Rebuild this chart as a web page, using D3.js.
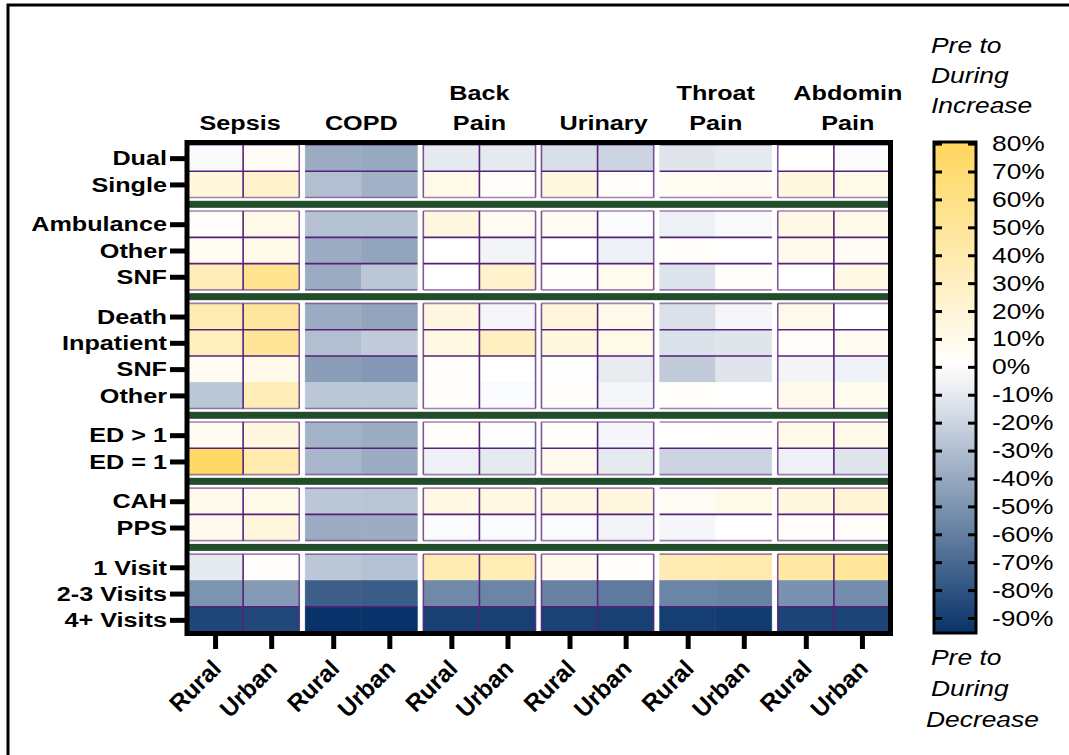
<!DOCTYPE html>
<html><head><meta charset="utf-8">
<script src="https://cdn.jsdelivr.net/npm/d3@7"></script>
<style>
body{margin:0;background:#fff}
svg{display:block}
text{font-family:"Liberation Sans",Arial,sans-serif;fill:#000}
</style>
</head><body>
<svg id="chart" width="1069" height="755"></svg>
<script>
// ---------- data ----------
const conditions = ["Sepsis","COPD","Back Pain","Urinary","Throat Pain","Abdomin Pain"];
const locations = ["Rural","Urban"];
const rowGroups = [
  ["Dual","Single"],
  ["Ambulance","Other","SNF"],
  ["Death","Inpatient","SNF","Other"],
  ["ED > 1","ED = 1"],
  ["CAH","PPS"],
  ["1 Visit","2-3 Visits","4+ Visits"]
];
// % change, pre to during; row order follows rowGroups
const sepsisRural   = [-3,17, 4,6,34, 38,32,7,-26, 7,75, 10,9, -10,-50,-86];
const sepsisUrban   = [5,24, 12,11,55, 48,51,12,35, 16,40, 11,17, 1,-47,-85];
const copdRural     = [-39,-30, -29,-38,-39, -38,-30,-45,-26, -35,-34, -26,-39, -26,-75,-95];
const copdUrban     = [-40,-36, -29,-42,-26, -42,-24,-48,-26, -38,-38, -27,-38, -29,-76,-95];
const backRural     = [-10,11, 15,0,0, 15,14,2,2, 2,-7, 13,-2, 37,-55,-89];
const backUrban     = [-10,2, 7,-5,24, -4,30,0,-2, -1,-10, 14,-2, 36,-57,-89];
const urinaryRural  = [-15,15, 7,0,2, 17,16,-1,3, 2,9, 14,-2, 10,-58,-88];
const urinaryUrban  = [-20,3, -2,-7,8, 11,12,-9,-4, -4,-10, 15,-5, 2,-62,-89];
const throatRural   = [-12,6, -7,2,-13, -14,-14,-24,2, 0,-20, 5,-4, 37,-57,-90];
const throatUrban   = [-10,7, -3,0,3, -4,-12,-12,0, 1,-20, 12,0, 39,-58,-91];
const abdominRural  = [0,15, 13,9,0, 11,2,-5,9, 12,-7, 16,3, 45,-51,-87];
const abdominUrban  = [-2,12, 11,5,13, 0,7,-6,8, 11,-12, 20,3, 49,-53,-87];
const legendTicks = [80,70,60,50,40,30,20,10,0,-10,-20,-30,-40,-50,-60,-70,-80,-90];
const legendTop = ["Pre to","During","Increase"];
const legendBottom = ["Pre to","During","Decrease"];

const valuesByColumn = {
  "Sepsis": {Rural: sepsisRural, Urban: sepsisUrban},
  "COPD": {Rural: copdRural, Urban: copdUrban},
  "Back Pain": {Rural: backRural, Urban: backUrban},
  "Urinary": {Rural: urinaryRural, Urban: urinaryUrban},
  "Throat Pain": {Rural: throatRural, Urban: throatUrban},
  "Abdomin Pain": {Rural: abdominRural, Urban: abdominUrban}
};

// ---------- layout ----------
const svg = d3.select("#chart");
const SX = 1.2; // horizontal text stretch seen in the reference
const plot = {left:187, right:890, top:145, bottom:633};
const gapUnits = 0.513;
const purple = "#56217a";
const green = "#214d2b";
const noVerticalLines = ["COPD","Throat Pain"];
const missingInnerLines = [[2,2],[5,0]]; // [group, boundary after row i]
const headerShift = {"Sepsis": -3, "Urinary": 6, "Abdomin Pain": 14};

// figure frame
svg.append("rect").attr("x",8).attr("y",5).attr("width",1100).attr("height",800)
  .attr("fill","none").attr("stroke","#000").attr("stroke-width",3);

// rows
const rows = [];
let gi = 0;
rowGroups.forEach((g, gIdx) => g.forEach((label, i) => {
  rows.push({key: gIdx + "|" + label, label, g: gIdx, i, idx: gi, pos: gi + gIdx * gapUnits});
  gi++;
}));
const yLin = d3.scaleLinear()
  .domain([0, rows.length + (rowGroups.length - 1) * gapUnits])
  .range([plot.top, plot.bottom]);
const yScale = d3.scaleOrdinal().domain(rows.map(r => r.key)).range(rows.map(r => yLin(r.pos + 0.5)));

const xGroup = d3.scaleBand().domain(conditions).range([plot.left, plot.right]).paddingInner(0.05);
const xLoc = d3.scaleBand().domain(locations).range([0, xGroup.bandwidth()]);
const cols = [];
conditions.forEach(c => locations.forEach(l => cols.push({key: c + "|" + l, c, l})));
const xScale = d3.scaleOrdinal().domain(cols.map(d => d.key))
  .range(cols.map(d => xGroup(d.c) + xLoc(d.l) + xLoc.bandwidth() / 2));

const color = d3.scaleLinear().domain([-95, 0, 80]).range(["#08336a", "#ffffff", "#ffd65c"]);

// cells
const cells = [];
cols.forEach(col => rows.forEach(r => cells.push({col, r, v: valuesByColumn[col.c][col.l][r.idx]})));
svg.append("g").selectAll("rect").data(cells).join("rect")
  .attr("x", d => xGroup(d.col.c) + xLoc(d.col.l))
  .attr("y", d => yLin(d.r.pos))
  .attr("width", xLoc.bandwidth())
  .attr("height", d => yLin(d.r.pos + 1) - yLin(d.r.pos))
  .attr("fill", d => color(d.v))
  .attr("stroke", d => color(d.v)).attr("stroke-width", 0.5);

// purple grid lines
const lineG = svg.append("g");
rowGroups.forEach((g, gIdx) => {
  const groupRows = rows.filter(r => r.g === gIdx);
  const top = yLin(groupRows[0].pos), bot = yLin(groupRows[groupRows.length - 1].pos + 1);
  conditions.forEach(c => {
    const x0 = xGroup(c), x1 = x0 + xGroup.bandwidth();
    for (let b = 0; b <= groupRows.length; b++) {
      const isEdge = (b === 0 || b === groupRows.length);
      if (!isEdge && missingInnerLines.some(m => m[0] === gIdx && m[1] === b - 1)) continue;
      const y = b < groupRows.length ? yLin(groupRows[b].pos) : bot;
      lineG.append("line").attr("x1", x0).attr("x2", x1).attr("y1", y).attr("y2", y)
        .attr("stroke", purple).attr("stroke-width", 1.6).attr("opacity", isEdge ? 0.55 : 1);
    }
    if (!noVerticalLines.includes(c)) {
      [0, 1, 2].forEach(k => {
        const x = x0 + k * xLoc.bandwidth();
        lineG.append("line").attr("x1", x).attr("x2", x).attr("y1", top).attr("y2", bot)
          .attr("stroke", purple).attr("stroke-width", 1.6).attr("opacity", k === 1 ? 1 : 0.75);
      });
    }
  });
});

// green separators
for (let g = 0; g < rowGroups.length - 1; g++) {
  const last = rows.filter(r => r.g === g).slice(-1)[0];
  const next = rows.filter(r => r.g === g + 1)[0];
  const yc = (yLin(last.pos + 1) + yLin(next.pos)) / 2;
  svg.append("rect").attr("x", plot.left).attr("y", yc - 3.5)
    .attr("width", plot.right - plot.left).attr("height", 7).attr("fill", green);
}

// plot frame
svg.append("rect").attr("x", plot.left).attr("y", 142.5)
  .attr("width", plot.right + 0.5 - plot.left).attr("height", plot.bottom + 0.5 - 142.5)
  .attr("fill", "none").attr("stroke", "#000").attr("stroke-width", 5);

// left axis (row labels)
const yAxisG = svg.append("g").attr("transform", `translate(${plot.left - 2},0)`)
  .call(d3.axisLeft(yScale).tickSize(15).tickPadding(3).tickFormat(k => k.split("|")[1]));
yAxisG.select(".domain").remove();
yAxisG.selectAll(".tick line").attr("stroke", "#000").attr("stroke-width", 5);
yAxisG.selectAll(".tick text")
  .attr("x", -18 / SX).attr("transform", `scale(${SX},1)`)
  .style("font-size", "21px").style("font-weight", "bold").attr("fill", "#000");

// bottom axis (Rural / Urban)
const xAxisG = svg.append("g").attr("transform", `translate(0,${plot.bottom + 2})`)
  .call(d3.axisBottom(xScale).tickSize(14).tickFormat(k => k.split("|")[1]));
xAxisG.select(".domain").remove();
xAxisG.selectAll(".tick line").attr("stroke", "#000").attr("stroke-width", 5);
xAxisG.selectAll(".tick text")
  .attr("x", null).attr("y", null).attr("dy", null)
  .attr("text-anchor", "end")
  .attr("transform", "translate(7,35) rotate(-45)")
  .style("font-size", "24px").style("font-weight", "bold").attr("fill", "#000");

// column group headers
conditions.forEach(c => {
  const parts = c.split(" ");
  const cx = xGroup(c) + xGroup.bandwidth() / 2 + (headerShift[c] || 0);
  parts.forEach((p, i) => {
    const y = 130 - (parts.length - 1 - i) * 30;
    svg.append("text").attr("transform", `translate(${cx},${y}) scale(${SX},1)`)
      .attr("text-anchor", "middle").style("font-size", "21px").style("font-weight", "bold").text(p);
  });
});

// ---------- colour legend ----------
const legY = d3.scaleLinear().domain([80, -90]).range([143.6, 618]);
const legX0 = 934, legX1 = 976;
const domMax = legY.invert(142), domMin = legY.invert(633);
const defs = svg.append("defs");
const grad = defs.append("linearGradient").attr("id", "lg").attr("x1", 0).attr("x2", 0).attr("y1", 0).attr("y2", 1);
d3.range(0, 1.0001, 0.05).forEach(t => {
  const v = domMax + (domMin - domMax) * t;
  grad.append("stop").attr("offset", t).attr("stop-color", color(Math.max(-95, Math.min(80, v))));
});
svg.append("rect").attr("x", legX0).attr("y", 142).attr("width", legX1 - legX0).attr("height", 633 - 142)
  .attr("fill", "url(#lg)").attr("stroke", "#000").attr("stroke-width", 3);

const legR = svg.append("g").attr("transform", `translate(${legX1},0)`)
  .call(d3.axisRight(legY).tickValues(legendTicks).tickSize(-8).tickPadding(16).tickFormat(d => d + "%"));
legR.select(".domain").remove();
legR.selectAll(".tick line").attr("stroke", "#000").attr("stroke-width", 3);
legR.selectAll(".tick text").attr("x", 16 / SX).attr("transform", `scale(${SX},1)`)
  .style("font-size", "22px").attr("fill", "#000");
const legL = svg.append("g").attr("transform", `translate(${legX0},0)`)
  .call(d3.axisLeft(legY).tickValues(legendTicks).tickSize(-8).tickFormat(""));
legL.select(".domain").remove();
legL.selectAll(".tick line").attr("stroke", "#000").attr("stroke-width", 3);

legendTop.forEach((t, i) => {
  svg.append("text").attr("transform", `translate(931,${53 + i * 30}) scale(${SX},1)`)
    .style("font-size", "22px").style("font-style", "italic").text(t);
});
legendBottom.forEach((t, i) => {
  svg.append("text").attr("transform", `translate(${i === 2 ? 926 : 931},${665 + i * 31}) scale(${SX},1)`)
    .style("font-size", "22px").style("font-style", "italic").text(t);
});
</script>
</body></html>
